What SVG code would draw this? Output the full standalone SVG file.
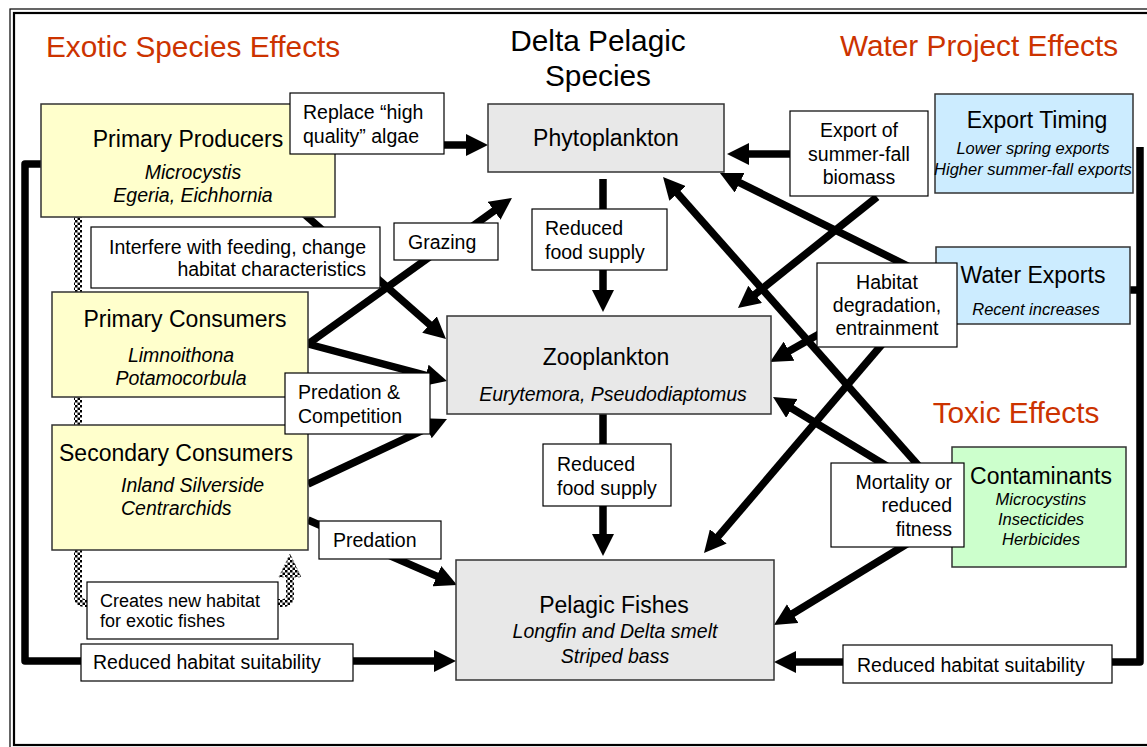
<svg xmlns="http://www.w3.org/2000/svg" width="1147" height="747" viewBox="0 0 1147 747">
<defs>
<style>
text { font-family: "Liberation Sans", Arial, sans-serif; fill: #000; }
.hdr { font-size: 29.8px; }
.red { fill: #CC3300; }
.title { font-size: 23px; }
.it { font-style: italic; font-size: 19.5px; }
.its { font-style: italic; font-size: 16.5px; }
.lbl { font-size: 19.5px; }
.sm { font-size: 18px; }
.node rect { stroke: #333; stroke-width: 1.5; }
.yel { fill: #FFFFCC; }
.gry { fill: #E8E8E8; }
.blu { fill: #CCECFF; }
.grn { fill: #CCFFCC; }
.lab rect { fill: #fff; stroke: #000; stroke-width: 1.2; }
.c { fill: none; stroke: #000; stroke-width: 7.5; stroke-linejoin: round; }
.a { marker-end: url(#ah); }
.dot { fill: none; stroke: url(#chk); stroke-width: 8; }
</style>
<marker id="ah" markerUnits="userSpaceOnUse" markerWidth="22" markerHeight="22" viewBox="0 0 22 22" refX="8" refY="11" orient="auto">
<path d="M0,0 L22,11 L0,22 z" fill="#000"/>
</marker>
<pattern id="chk" width="5" height="5" patternUnits="userSpaceOnUse">
<rect width="5" height="5" fill="#fff"/>
<rect width="2.5" height="2.5" fill="#000"/>
<rect x="2.5" y="2.5" width="2.5" height="2.5" fill="#000"/>
</pattern>
</defs>
<rect width="1147" height="747" fill="#fff"/>
<g id="frame" fill="none" stroke="#000">
<rect x="10" y="9" width="1150" height="740" stroke-width="1.2"/>
<rect x="14" y="13" width="1140" height="732" stroke-width="2.2"/>
</g>
<g id="headings">
<text class="hdr red" x="46" y="57">Exotic Species Effects</text>
<text class="hdr" x="598" y="51" text-anchor="middle">Delta Pelagic</text>
<text class="hdr" x="598" y="86" text-anchor="middle">Species</text>
<text class="hdr red" x="979" y="56" text-anchor="middle">Water Project Effects</text>
<text class="hdr red" x="1016" y="423" text-anchor="middle">Toxic Effects</text>
</g>
<g id="connectors">
<path class="dot" d="M78,217 V596 Q78,603 85,603 H283 Q290,603 290,596 V576"/>
<polygon points="279,577 290,554 301,577" fill="url(#chk)" stroke="#555" stroke-width="0.8" stroke-dasharray="2 2"/>
<path class="c a" d="M335,145 H474"/>
<path class="c a" d="M303,213 L435.5,329.8"/>
<path class="c a" d="M308,344 L500.6,206.1"/>
<path class="c a" d="M308,344 L433.5,377.4"/>
<path class="c a" d="M308,484 L434.3,424.9"/>
<path class="c a" d="M308,520 L444.2,579.4"/>
<path class="c a" d="M41,164 H25 V661 H442"/>
<path class="c a" d="M603,179 V298"/>
<path class="c a" d="M603,414 V542"/>
<path class="c a" d="M928,154 H741"/>
<path class="c a" d="M877,197 L748.9,299.3"/>
<path class="c a" d="M936,280 L732.5,179.2"/>
<path class="c a" d="M925,473 L672.3,187.5"/>
<path class="c a" d="M890,468 L785,404.3"/>
<path class="c a" d="M915,539 L785.9,617.7"/>
<path class="c a" d="M835,325 L782.2,355.1"/>
<path class="c a" d="M890,335 L713.1,542.4"/>
<path class="c a" d="M1140,147 V662 H788"/>
<path class="c" d="M1130,290 H1140"/>
</g>
<g id="primary-producers" class="node">
<rect class="yel" x="41" y="104" width="294" height="113"/>
<text class="title" x="188" y="147" text-anchor="middle">Primary Producers</text>
<text class="it" x="193" y="179" text-anchor="middle">Microcystis</text>
<text class="it" x="193" y="202" text-anchor="middle">Egeria, Eichhornia</text>
</g>
<g id="primary-consumers" class="node">
<rect class="yel" x="52" y="292" width="256" height="105"/>
<text class="title" x="185" y="327" text-anchor="middle">Primary Consumers</text>
<text class="it" x="181" y="362" text-anchor="middle">Limnoithona</text>
<text class="it" x="181" y="385" text-anchor="middle">Potamocorbula</text>
</g>
<g id="secondary-consumers" class="node">
<rect class="yel" x="52" y="425" width="256" height="125"/>
<text class="title" x="176" y="461" text-anchor="middle">Secondary Consumers</text>
<text class="it" x="121" y="492">Inland Silverside</text>
<text class="it" x="121" y="515">Centrarchids</text>
</g>
<g id="phytoplankton" class="node">
<rect class="gry" x="488" y="104" width="236" height="68"/>
<text class="title" x="606" y="146" text-anchor="middle">Phytoplankton</text>
</g>
<g id="zooplankton" class="node">
<rect class="gry" x="447" y="316" width="324" height="98"/>
<text class="title" x="606" y="365" text-anchor="middle">Zooplankton</text>
<text class="it" x="613" y="401" text-anchor="middle">Eurytemora, Pseudodiaptomus</text>
</g>
<g id="pelagic-fishes" class="node">
<rect class="gry" x="456" y="560" width="318" height="120"/>
<text class="title" x="614" y="613" text-anchor="middle">Pelagic Fishes</text>
<text class="it" x="615" y="638" text-anchor="middle">Longfin and Delta smelt</text>
<text class="it" x="615" y="663" text-anchor="middle">Striped bass</text>
</g>
<g id="export-timing" class="node">
<rect class="blu" x="935" y="94" width="198" height="99"/>
<text class="title" x="1037" y="128" text-anchor="middle">Export Timing</text>
<text class="its" x="1033" y="154" text-anchor="middle">Lower spring exports</text>
<text class="its" x="1033" y="175" text-anchor="middle">Higher summer-fall exports</text>
</g>
<g id="water-exports" class="node">
<rect class="blu" x="936" y="247" width="194" height="77"/>
<text class="title" x="1033" y="283" text-anchor="middle">Water Exports</text>
<text class="its" x="1036" y="315" text-anchor="middle">Recent increases</text>
</g>
<g id="contaminants" class="node">
<rect class="grn" x="952" y="447" width="174" height="120"/>
<text class="title" x="1041" y="484" text-anchor="middle">Contaminants</text>
<text class="its" x="1041" y="505" text-anchor="middle">Microcystins</text>
<text class="its" x="1041" y="525" text-anchor="middle">Insecticides</text>
<text class="its" x="1041" y="545" text-anchor="middle">Herbicides</text>
</g>
<g id="lbl-replace" class="lab">
<rect x="290" y="93" width="154" height="61"/>
<text class="lbl" x="303" y="119">Replace “high</text>
<text class="lbl" x="303" y="143">quality” algae</text>
</g>
<g id="lbl-interfere" class="lab">
<rect x="91" y="227" width="289" height="61"/>
<text class="lbl" x="366" y="254" text-anchor="end">Interfere with feeding, change</text>
<text class="lbl" x="366" y="276" text-anchor="end">habitat characteristics</text>
</g>
<g id="lbl-grazing" class="lab">
<rect x="394" y="223" width="104" height="37"/>
<text class="lbl" x="408" y="249">Grazing</text>
</g>
<g id="lbl-food1" class="lab">
<rect x="532" y="209" width="135" height="61"/>
<text class="lbl" x="545" y="235">Reduced</text>
<text class="lbl" x="545" y="259">food supply</text>
</g>
<g id="lbl-predcomp" class="lab">
<rect x="285" y="373" width="145" height="61"/>
<text class="lbl" x="298" y="399">Predation &amp;</text>
<text class="lbl" x="298" y="423">Competition</text>
</g>
<g id="lbl-food2" class="lab">
<rect x="543" y="444" width="128" height="62"/>
<text class="lbl" x="557" y="471">Reduced</text>
<text class="lbl" x="557" y="495">food supply</text>
</g>
<g id="lbl-predation" class="lab">
<rect x="319" y="521" width="122" height="38"/>
<text class="lbl" x="333" y="547">Predation</text>
</g>
<g id="lbl-creates" class="lab">
<rect x="87" y="582" width="191" height="57"/>
<text class="sm" x="100" y="607">Creates new habitat</text>
<text class="sm" x="100" y="627">for exotic fishes</text>
</g>
<g id="lbl-habitat-left" class="lab">
<rect x="81" y="644" width="272" height="37"/>
<text class="lbl" x="93" y="669">Reduced habitat suitability</text>
</g>
<g id="lbl-export-biomass" class="lab">
<rect x="790" y="111" width="138" height="85"/>
<text class="lbl" x="859" y="137" text-anchor="middle">Export of</text>
<text class="lbl" x="859" y="161" text-anchor="middle">summer-fall</text>
<text class="lbl" x="859" y="184" text-anchor="middle">biomass</text>
</g>
<g id="lbl-habitat-deg" class="lab">
<rect x="817" y="263" width="140" height="84"/>
<text class="lbl" x="887" y="289" text-anchor="middle">Habitat</text>
<text class="lbl" x="887" y="312" text-anchor="middle">degradation,</text>
<text class="lbl" x="887" y="335" text-anchor="middle">entrainment</text>
</g>
<g id="lbl-mortality" class="lab">
<rect x="831" y="463" width="133" height="84"/>
<text class="lbl" x="952" y="489" text-anchor="end">Mortality or</text>
<text class="lbl" x="952" y="512" text-anchor="end">reduced</text>
<text class="lbl" x="952" y="536" text-anchor="end">fitness</text>
</g>
<g id="lbl-habitat-right" class="lab">
<rect x="843" y="645" width="269" height="38"/>
<text class="lbl" x="857" y="672">Reduced habitat suitability</text>
</g>
</svg>
